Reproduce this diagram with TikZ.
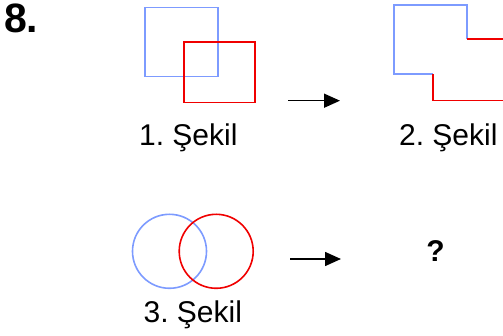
\documentclass[tikz,border=0pt]{standalone}
\usepackage{fontspec}
\setmainfont{Liberation Sans}
\usetikzlibrary{arrows.meta}
\frenchspacing
\definecolor{sqblue}{RGB}{125,155,255}
\definecolor{sqred}{RGB}{240,0,0}
\tikzset{
  lbl/.style={anchor=base,inner sep=0pt,font=\fontsize{30}{36}\selectfont},
  bluel/.style={draw=sqblue,line width=1.6pt},
  redl/.style={draw=sqred,line width=1.6pt},
  arr/.style={line width=1.5pt,-{Triangle[length=16pt,width=14pt]}}
}
\begin{document}
\begin{tikzpicture}[x=1pt,y=-1pt]
\useasboundingbox (0,0) rectangle (503,336);
% number
\node[anchor=base west,inner sep=0pt,font=\fontsize{41}{46}\selectfont\bfseries] (num) at (4,32.7) {8.};
% figure 1
\draw[bluel] (145,7.5) rectangle (218,76.5);
\draw[redl] (184,42) rectangle (255,102.5);
\node[lbl] (l1) at (188.3,145.7) {1. Şekil};
% arrow 1
\coordinate (a1s) at (288,100.7);
\coordinate (a1e) at (340,100.7);
\draw[arr] (a1s) -- (a1e);
% figure 2
\draw[bluel] (433,74) -- (394,74) -- (394,5) -- (467,5) -- (467,39.3);
\draw[redl] (467,39.3) -- (503.5,39.3) -- (503.5,100.7) -- (433,100.7) -- (433,74);
\node[lbl] (l2) at (448.3,145.7) {2. Şekil};
% figure 3
\draw[bluel] (169.5,251.3) circle (37);
\draw[redl] (216.2,251.3) circle (37);
\node[lbl] (l3) at (192.8,322.7) {3. Şekil};
% arrow 2
\coordinate (a2s) at (290,259);
\coordinate (a2e) at (341,259);
\draw[arr] (a2s) -- (a2e);
\node[lbl,font=\fontsize{30}{34}\selectfont\bfseries] (q) at (435.5,261.7) {?};
\end{tikzpicture}
\end{document}
